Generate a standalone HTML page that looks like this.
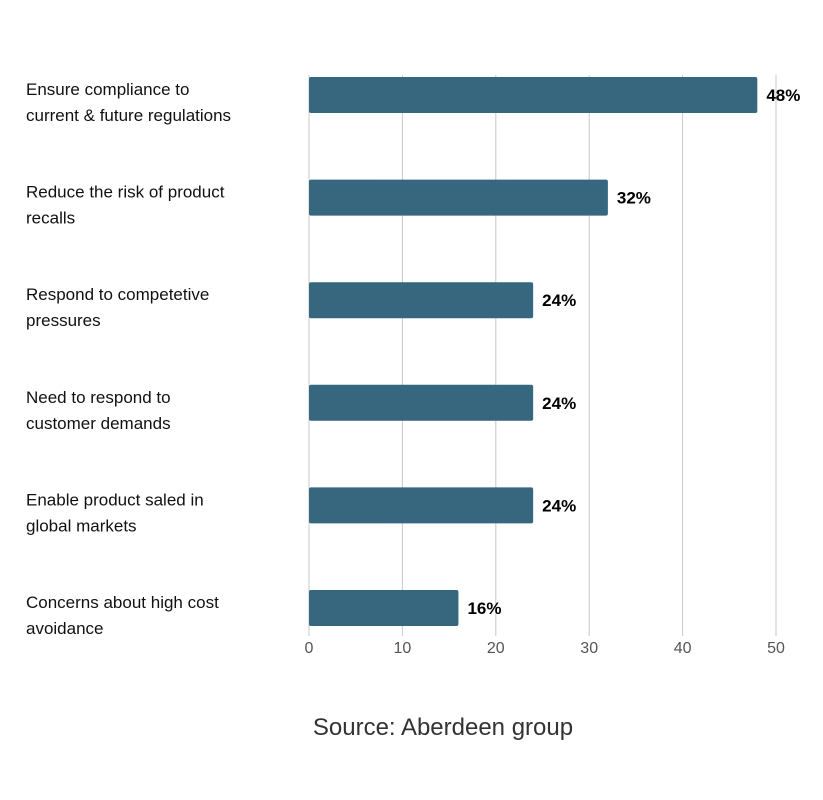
<!DOCTYPE html>
<html><head><meta charset="utf-8"><style>
body{margin:0;background:#fff;width:823px;height:800px;overflow:hidden;font-family:"Liberation Sans",sans-serif}
svg{display:block}
</style></head><body>
<svg id="chart" width="823" height="800">
<g id="grid"></g>
<g id="bars"></g>
<g id="labels"></g>
<g id="ticks"></g>
<text x="443" y="735" text-anchor="middle" font-size="24" fill="#333">Source: Aberdeen group</text>
</svg>
<script>
const categories=[["Ensure compliance to","current & future regulations"],["Reduce the risk of product","recalls"],["Respond to competetive","pressures"],["Need to respond to","customer demands"],["Enable product saled in","global markets"],["Concerns about high cost","avoidance"]];
const values=[48,32,24,24,24,16];
const tickValues=[0,10,20,30,40,50];
const NS="http://www.w3.org/2000/svg";
const x0=309,pxPer=9.34,rowTop=77,rowStep=102.6,barH=36;
const xs=v=>x0+v*pxPer;
const ys=i=>rowTop+i*rowStep;
function mk(t,a,p){const e=document.createElementNS(NS,t);for(const k in a)e.setAttribute(k,a[k]);p.appendChild(e);return e;}
const grid=document.getElementById('grid'),bars=document.getElementById('bars'),labels=document.getElementById('labels'),ticks=document.getElementById('ticks');
tickValues.forEach(v=>{
 const l=mk('line',{x1:xs(v),x2:xs(v),y1:75,y2:636,stroke:'#c8c8c8','stroke-width':1},grid);
 
 
 const t=mk('text',{x:xs(v),y:653,'text-anchor':'middle','font-size':16,fill:'#555'},ticks);
 t.textContent=v;
 
 
});
values.forEach((v,i)=>{
 const r=mk('rect',{x:xs(0),y:ys(i),width:xs(v)-xs(0),height:barH,rx:2,fill:'#36677f'},bars);
 
 
 const t=mk('text',{x:xs(v)+9,y:ys(i)+barH/2+6,'font-size':17,'font-weight':'bold',fill:'#000'},bars);
 t.textContent=v+'%';
 
 
 const c=mk('text',{x:26,y:ys(i)+18,'font-size':17,fill:'#111'},labels);
 
 
 categories[i].forEach((s,j)=>{const ts=mk('tspan',{x:26,dy:j?26:0},c);ts.textContent=s;});
});
</script>
</body></html>
